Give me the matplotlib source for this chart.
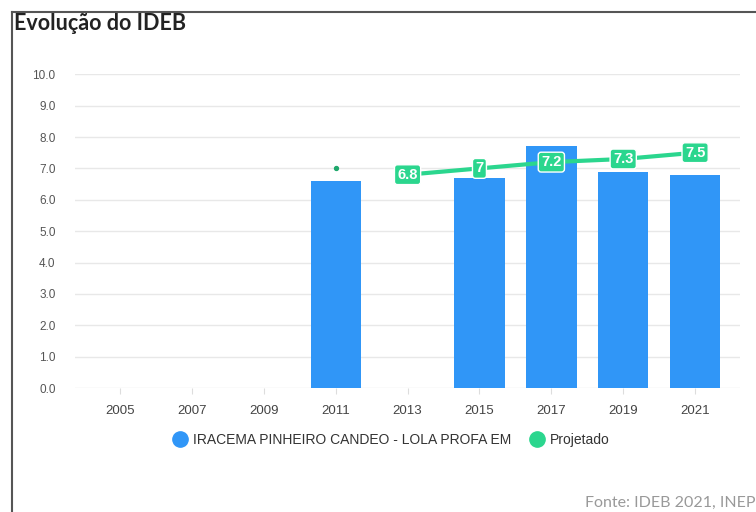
"""
Evolução do IDEB — bar + projected line chart
"""
import matplotlib
matplotlib.use("Agg")
import matplotlib.pyplot as plt
from matplotlib.lines import Line2D
import numpy as np

plt.rcParams.update({
    "font.family": ["Liberation Sans", "DejaVu Sans"],
    "font.size": 9,
})

# data
years = ["2005", "2007", "2009", "2011", "2013", "2015", "2017", "2019", "2021"]
school = [np.nan, np.nan, np.nan, 6.6, np.nan, 6.7, 7.7, 6.9, 6.8]
projected = [np.nan, np.nan, np.nan, 7.0, 6.8, 7.0, 7.2, 7.3, 7.5]
proj_labels = ["", "", "", "", "6.8", "7", "7.2", "7.3", "7.5"]
yticks = [0, 1, 2, 3, 4, 5, 6, 7, 8, 9, 10]

school_name = "IRACEMA PINHEIRO CANDEO - LOLA PROFA EM"
BLUE = "#3096f7"
GREEN = "#2bd68e"

fig = plt.figure(figsize=(7.56, 5.12), dpi=100)
ax = fig.add_axes([0.0992, 0.242, 0.8798, 0.613])

x = np.arange(len(years))
ax.bar(x, school, width=0.7, color=BLUE, zorder=2)

# projected line starts at 2013; 2011 shows only a lone dot
start = 4
ax.plot(x[start:], projected[start:], color=GREEN, lw=3, zorder=3,
        solid_capstyle="round")
ax.scatter([x[3]], [projected[3]], s=8, color="#1fa86c", zorder=4)
for xi, v, lab in zip(x, projected, proj_labels):
    if lab:
        ax.text(xi, v, lab, ha="center", va="center", fontsize=10.5,
                fontweight="bold", color="white", zorder=5,
                bbox=dict(boxstyle="round,pad=0.2", fc=GREEN, ec="white", lw=1))

ax.set_ylim(0, 10)
ax.set_xlim(-0.626, 8.626)
ax.set_yticks(yticks)
ax.set_yticklabels([f"{v:.1f}" for v in yticks])
ax.set_xticks(x)
ax.set_xticklabels(years)
ax.grid(axis="y", color="#e8e8e8", lw=1, zorder=0)
for s in ax.spines.values():
    s.set_visible(False)
ax.tick_params(axis="y", length=0, pad=14, labelsize=8.5, labelcolor="#555555")
ax.tick_params(axis="x", length=4, color="#dddddd", pad=8, labelsize=9.5,
               labelcolor="#444444")

# legend
handles = [
    Line2D([], [], marker="o", ls="", ms=11, color=BLUE),
    Line2D([], [], marker="o", ls="", ms=11, color=GREEN),
]
fig.legend(handles, [school_name, "Projetado"], ncol=2, frameon=False,
           loc="center", bbox_to_anchor=(0.513, 0.141), fontsize=10,
           handletextpad=-0.1, columnspacing=0.9, labelcolor="#333333")

# title, source, frame
fig.text(0.019, 0.955, "Evolução do IDEB", fontsize=15.5, fontweight="bold",
         family=["Lato", "DejaVu Sans"], color="#222222", va="center")
fig.text(0.774, 0.017, "Fonte: IDEB 2021, INEP", fontsize=11.5,
         family=["Lato", "DejaVu Sans"], color="#999999", va="center")
fig.add_artist(Line2D([0.016, 0.016], [0, 0.977], color="#555555", lw=1.5))
fig.add_artist(Line2D([0.016, 1.0], [0.977, 0.977], color="#555555", lw=1.5))

fig.savefig("out.png", dpi=100)
